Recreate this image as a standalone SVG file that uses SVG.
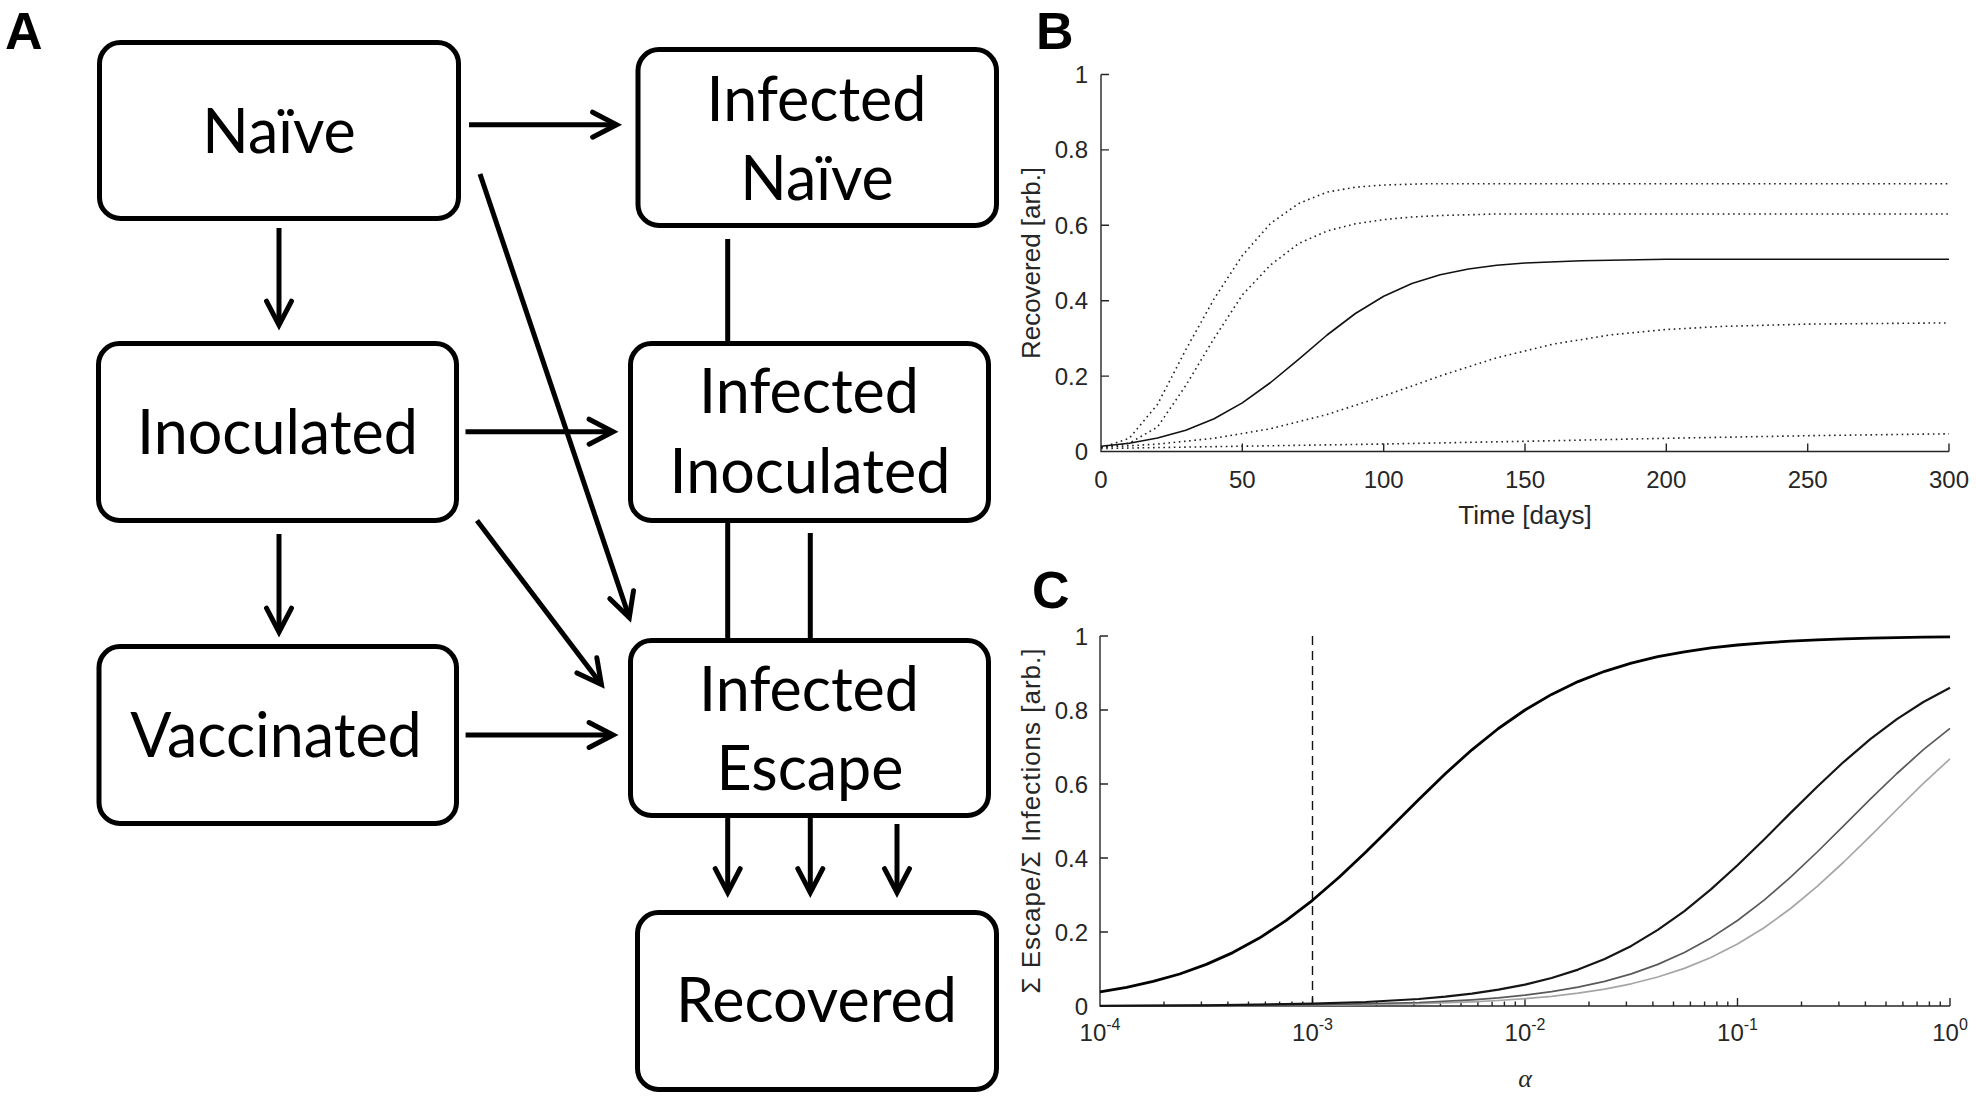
<svg xmlns="http://www.w3.org/2000/svg" width="1976" height="1096" viewBox="0 0 1976 1096">
<style>
.box{fill:#fff;stroke:#000;stroke-width:5}
.bt{font-family:Lato,'Liberation Sans',sans-serif;font-size:61px;fill:#000;text-anchor:middle}
.pl{font-family:'Liberation Sans',Arial,sans-serif;font-weight:bold;font-size:52px;fill:#000}
.con{fill:none;stroke:#000;stroke-width:5}
.ax{fill:none;stroke:#262626;stroke-width:1.4}
.tk{font-family:'Liberation Sans',Arial,sans-serif;font-size:24px;fill:#262626}
.al{font-size:26px}
.yt{text-anchor:end}
.xt{text-anchor:middle}
.dot{fill:none;stroke:#222;stroke-width:1.6;stroke-dasharray:1.6 3.6}
.cur{fill:none;stroke-linejoin:round}
</style>
<defs>
<marker id="ah" markerUnits="userSpaceOnUse" markerWidth="44" markerHeight="44" viewBox="-34 -22 44 44" refX="0" refY="0" orient="auto">
<path d="M-24,-12.5 L0,0 L-24,12.5" fill="none" stroke="#000" stroke-width="5" stroke-linecap="round" stroke-linejoin="miter"/>
</marker>
</defs>
<rect width="1976" height="1096" fill="#fff"/>

<text class="pl" x="5" y="49">A</text>
<text class="pl" x="1036" y="49">B</text>
<text class="pl" x="1032" y="608">C</text>

<g id="connectors">
<line class="con" x1="469" y1="124.7" x2="616.6" y2="124.7" marker-end="url(#ah)"/>
<line class="con" x1="279" y1="228" x2="279" y2="325.1" marker-end="url(#ah)"/>
<line class="con" x1="480" y1="174" x2="629.3" y2="617.5" marker-end="url(#ah)"/>
<line class="con" x1="465.5" y1="431.7" x2="613.1" y2="431.7" marker-end="url(#ah)"/>
<line class="con" x1="279" y1="534" x2="279" y2="632.1" marker-end="url(#ah)"/>
<line class="con" x1="477" y1="520.6" x2="601.4" y2="684.5" marker-end="url(#ah)"/>
<line class="con" x1="465.6" y1="735" x2="613.1" y2="735" marker-end="url(#ah)"/>
<line class="con" x1="727.7" y1="239" x2="727.7" y2="342"/>
<line class="con" x1="727.7" y1="521" x2="727.7" y2="642"/>
<line class="con" x1="810.3" y1="533" x2="810.3" y2="642"/>
<line class="con" x1="727.7" y1="816" x2="727.7" y2="892.6" marker-end="url(#ah)"/>
<line class="con" x1="810.3" y1="816" x2="810.3" y2="892.6" marker-end="url(#ah)"/>
<line class="con" x1="897" y1="824" x2="897" y2="892.6" marker-end="url(#ah)"/>
</g>

<g id="naive">
<rect class="box" x="99.5" y="42.5" width="359" height="176" rx="21"/>
<text class="bt" x="279" y="153">Naïve</text>
</g>
<g id="inoculated">
<rect class="box" x="98.5" y="343.5" width="358" height="177" rx="21"/>
<text class="bt" x="277.5" y="454">Inoculated</text>
</g>
<g id="vaccinated">
<rect class="box" x="99" y="646.5" width="357.5" height="177" rx="21"/>
<text class="bt" x="276" y="757">Vaccinated</text>
</g>
<g id="infected-naive">
<rect class="box" x="638" y="49.5" width="358.5" height="176" rx="21"/>
<text class="bt" x="816.5" y="120.5">Infected</text>
<text class="bt" x="817" y="199.7">Naïve</text>
</g>
<g id="infected-inoculated">
<rect class="box" x="630.5" y="343.5" width="358" height="177" rx="21"/>
<text class="bt" x="809" y="413">Infected</text>
<text class="bt" x="810" y="493">Inoculated</text>
</g>
<g id="infected-escape">
<rect class="box" x="630.5" y="640.5" width="358" height="175" rx="21"/>
<text class="bt" x="809" y="710.5">Infected</text>
<text class="bt" x="810" y="789.7">Escape</text>
</g>
<g id="recovered">
<rect class="box" x="637.5" y="912.5" width="359" height="177" rx="21"/>
<text class="bt" x="816.5" y="1022">Recovered</text>
</g>

<g id="panel-B">
<path class="ax" d="M1101,74.5 V451.5 H1949 M1101,376.1 h8 M1101,300.7 h8 M1101,225.3 h8 M1101,149.9 h8 M1101,74.5 h8 M1242.3,451.5 v-8 M1383.7,451.5 v-8 M1525,451.5 v-8 M1666.3,451.5 v-8 M1807.7,451.5 v-8 M1949,451.5 v-8"/>
<g class="tk yt">
<text x="1088" y="460">0</text>
<text x="1088" y="384.6">0.2</text>
<text x="1088" y="309.2">0.4</text>
<text x="1088" y="233.8">0.6</text>
<text x="1088" y="158.4">0.8</text>
<text x="1088" y="83">1</text>
</g>
<g class="tk xt">
<text x="1101" y="488">0</text>
<text x="1242.3" y="488">50</text>
<text x="1383.7" y="488">100</text>
<text x="1525" y="488">150</text>
<text x="1666.3" y="488">200</text>
<text x="1807.7" y="488">250</text>
<text x="1949" y="488">300</text>
<text class="al" x="1525" y="524">Time [days]</text>
<text class="al" transform="translate(1040,263) rotate(-90)" x="0" y="0">Recovered [arb.]</text>
</g>
<polyline class="dot" points="1101,447.7 1129.3,438.3 1157.5,404.4 1185.8,349.7 1214.1,298.8 1242.3,255.5 1270.6,223.4 1298.9,203.4 1327.1,192.1 1355.4,187.2 1383.7,185.0 1426.1,183.8 1949,183.8"/>
<polyline class="dot" points="1101,447.7 1129.3,443.2 1157.5,427.0 1185.8,385.5 1214.1,338.4 1242.3,295.0 1270.6,264.9 1298.9,243.4 1327.1,231.0 1355.4,223.8 1383.7,219.6 1411.9,217.0 1440.2,215.5 1496.7,214.0 1949,214.0"/>
<polyline class="dot" points="1101,447.4 1157.5,444.1 1214.1,438.3 1270.6,428.7 1327.1,414.5 1383.7,396.0 1440.2,375.9 1496.7,357.8 1553.3,344.1 1609.8,335.0 1666.3,329.5 1722.9,326.4 1807.7,324.1 1949,322.9"/>
<polyline class="dot" points="1101,448.5 1242.3,446.2 1383.7,444.0 1525,441.3 1666.3,438.3 1807.7,435.7 1949,433.8"/>
<polyline class="cur" stroke="#111" stroke-width="1.6" points="1101,446.2 1129.3,443.2 1157.5,438.0 1185.8,430.2 1214.1,418.7 1242.3,402.9 1270.6,382.5 1298.9,359.1 1327.1,335.0 1355.4,313.5 1383.7,296.2 1411.9,283.4 1440.2,274.7 1468.5,269.0 1496.7,265.3 1525,263.0 1581.5,260.7 1666.3,259.2 1949,259.2"/>
</g>

<g id="panel-C">
<path class="ax" d="M1100,636 V1006 H1950 M1100,932 h8 M1100,858 h8 M1100,784 h8 M1100,710 h8 M1100,636 h8 M1312.5,1006 v-8 M1525,1006 v-8 M1737.5,1006 v-8 M1950,1006 v-8"/>
<path class="ax" stroke-width="1.2" d="M1164,1006v-4.5 M1201.4,1006v-4.5 M1227.9,1006v-4.5 M1248.5,1006v-4.5 M1265.4,1006v-4.5 M1279.6,1006v-4.5 M1291.9,1006v-4.5 M1302.8,1006v-4.5 M1376.5,1006v-4.5 M1413.9,1006v-4.5 M1440.4,1006v-4.5 M1461,1006v-4.5 M1477.9,1006v-4.5 M1492.1,1006v-4.5 M1504.4,1006v-4.5 M1515.3,1006v-4.5 M1589,1006v-4.5 M1626.4,1006v-4.5 M1652.9,1006v-4.5 M1673.5,1006v-4.5 M1690.4,1006v-4.5 M1704.6,1006v-4.5 M1716.9,1006v-4.5 M1727.8,1006v-4.5 M1801.5,1006v-4.5 M1838.9,1006v-4.5 M1865.4,1006v-4.5 M1886,1006v-4.5 M1902.9,1006v-4.5 M1917.1,1006v-4.5 M1929.4,1006v-4.5 M1940.3,1006v-4.5"/>
<g class="tk yt">
<text x="1088" y="1014.5">0</text>
<text x="1088" y="940.5">0.2</text>
<text x="1088" y="866.5">0.4</text>
<text x="1088" y="792.5">0.6</text>
<text x="1088" y="718.5">0.8</text>
<text x="1088" y="644.5">1</text>
</g>
<g class="tk xt">
<text x="1100" y="1041">10<tspan dy="-11" font-size="16">-4</tspan></text>
<text x="1312.5" y="1041">10<tspan dy="-11" font-size="16">-3</tspan></text>
<text x="1525" y="1041">10<tspan dy="-11" font-size="16">-2</tspan></text>
<text x="1737.5" y="1041">10<tspan dy="-11" font-size="16">-1</tspan></text>
<text x="1950" y="1041">10<tspan dy="-11" font-size="16">0</tspan></text>
<text x="1525" y="1087" font-family="'Liberation Serif',serif" font-style="italic" font-size="26">α</text>
<text class="al" transform="translate(1040,821) rotate(-90)" x="0" y="0" textLength="345" lengthAdjust="spacing">Σ Escape/Σ Infections [arb.]</text>
</g>
<line x1="1312.5" y1="636" x2="1312.5" y2="1006" stroke="#111" stroke-width="1.4" stroke-dasharray="9 6"/>
<polyline class="cur" stroke="#a6a6a6" stroke-width="1.7" points="1100,1005.9 1312.5,1005.3 1418.8,1003.7 1471.9,1001.9 1498.4,1000.5 1525,998.7 1551.6,996.3 1578.1,993.2 1604.7,989.1 1631.3,983.8 1657.8,977.0 1684.4,968.4 1710.9,957.5 1737.5,944.0 1764.1,927.7 1790.6,908.5 1817.2,886.4 1843.8,862.0 1870.3,836.1 1896.9,809.5 1923.4,783.4 1950,758.8"/>
<polyline class="cur" stroke="#595959" stroke-width="1.7" points="1100,1005.9 1312.5,1004.9 1418.8,1002.5 1471.9,999.8 1498.4,997.9 1525,995.2 1551.6,991.7 1578.1,987.2 1604.7,981.4 1631.3,973.9 1657.8,964.4 1684.4,952.5 1710.9,937.9 1737.5,920.5 1764.1,900.1 1790.6,877.1 1817.2,852.0 1843.8,825.7 1870.3,799.2 1896.9,773.5 1923.4,749.7 1950,728.4"/>
<polyline class="cur" stroke="#151515" stroke-width="2.2" points="1100,1005.8 1206.3,1005.3 1312.5,1003.7 1365.6,1002.0 1418.8,999.0 1445.3,996.7 1471.9,993.6 1498.4,989.7 1525,984.6 1551.6,978.0 1578.1,969.6 1604.7,959.0 1631.3,945.9 1657.8,929.9 1684.4,911.1 1710.9,889.4 1737.5,865.3 1764.1,839.5 1790.6,812.9 1817.2,786.7 1843.8,761.8 1870.3,739.1 1896.9,719.1 1923.4,702.0 1950,687.8"/>
<polyline class="cur" stroke="#000" stroke-width="2.8" points="1100,991.8 1126.6,987.3 1153.1,981.4 1179.7,974.0 1206.3,964.4 1232.8,952.6 1259.4,938.1 1285.9,920.6 1312.5,900.3 1339.1,877.3 1365.6,852.2 1392.2,825.9 1418.8,799.4 1445.3,773.7 1471.9,749.8 1498.4,728.5 1525,710.0 1551.6,694.4 1578.1,681.6 1604.7,671.3 1631.3,663.1 1657.8,656.7 1684.4,651.8 1710.9,647.9 1737.5,645.0 1764.1,642.8 1790.6,641.1 1817.2,639.8 1843.8,638.9 1870.3,638.2 1896.9,637.6 1923.4,637.2 1950,636.9"/>
</g>
</svg>
